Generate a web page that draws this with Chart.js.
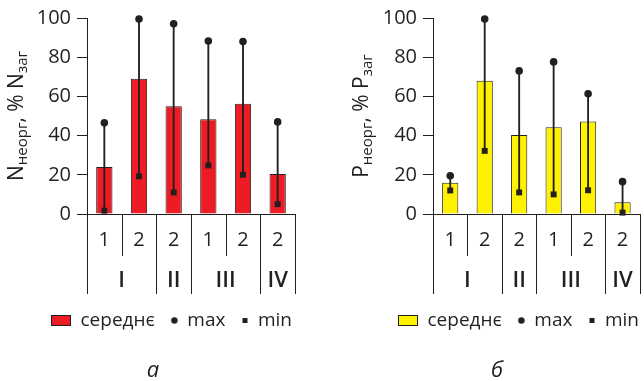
<!DOCTYPE html>
<html>
<head>
<meta charset="utf-8">
<script src="https://cdn.jsdelivr.net/npm/chart.js@4.4.0/dist/chart.umd.min.js"></script>
<style>
  body { margin: 0; background: #fff; }
  #wrap { position: relative; width: 644px; height: 381px; overflow: hidden; font-family: 'Open Sans', sans-serif; color: #231f20; }
  .panel { position: absolute; top: 0; width: 322px; height: 381px; }
  .sub { position: absolute; top: 353px; line-height: 30px; font-style: italic; font-size: 22px; transform: translateX(-50%); }
</style>
</head>
<body>
<div id="wrap">
  <div class="panel" style="left:0"><canvas id="chart_n"></canvas></div>
  <div class="panel" style="left:322px"><canvas id="chart_p"></canvas></div>
  <div class="sub" style="left:153px">а</div>
  <div class="sub" style="left:497px">б</div>
</div>
<script>
// categories and groups on the x axis
var categories = ["1", "2", "2", "1", "2", "2"];
var groups = ["I", "II", "III", "IV"];
var group_sizes = [2, 1, 2, 1];
var y_ticks = [0, 20, 40, 60, 80, 100];
var legend_names = ["середнє", "max", "min"];

// panel a: N
var n_mean = [24, 69, 55, 48.3, 56.2, 20.4];
var n_max = [46.5, 99.5, 97.1, 88.3, 88, 47];
var n_min = [1.7, 19.2, 11, 24.8, 20, 5];

// panel b: P
var p_mean = [16, 68, 40.3, 44.2, 47.2, 6];
var p_max = [19.5, 99.5, 73, 77.6, 61.3, 16.5];
var p_min = [12, 32.2, 11, 10, 12.1, 0.7];

var ink = "#231f20";
Chart.defaults.font.family = "'Open Sans', sans-serif";
Chart.defaults.color = ink;

function legend_marker(kind, fill) {
  var c = document.createElement("canvas");
  c.width = 20;
  c.height = 11;
  var g = c.getContext("2d");
  g.fillStyle = ink;
  if (kind == "box") {
    g.fillStyle = fill;
    g.fillRect(0.5, 0.5, 19, 10);
    g.strokeStyle = ink;
    g.lineWidth = 1;
    g.strokeRect(0.5, 0.5, 19, 10);
  } else if (kind == "dot") {
    g.beginPath();
    g.arc(16.5, 5.5, 3.2, 0, Math.PI * 2);
    g.fill();
  } else {
    g.fillRect(14, 3, 5, 5);
  }
  return c;
}

// separators, group names and the y title with subscripts
var group_axis = {
  id: "group_axis",
  afterDraw: function(chart, args, opts) {
    var ctx = chart.ctx;
    var xs = chart.scales.x;
    var y0 = chart.scales.y.getPixelForValue(0);
    var step = xs.getPixelForValue(1) - xs.getPixelForValue(0);
    var first = xs.getPixelForValue(0) - step / 2;

    var long_edges = [0];
    var acc = 0;
    group_sizes.forEach(function(s) { acc += s; long_edges.push(acc); });

    ctx.save();
    ctx.strokeStyle = ink;
    ctx.lineWidth = 1;
    for (var i = 0; i <= categories.length; i++) {
      var bx = Math.round(first + i * step) + 0.5;
      var len = long_edges.indexOf(i) >= 0 ? 80 : 42;
      ctx.beginPath();
      ctx.moveTo(bx, y0);
      ctx.lineTo(bx, y0 + len);
      ctx.stroke();
    }

    ctx.fillStyle = ink;
    ctx.font = "600 22px 'Open Sans'";
    ctx.textAlign = "center";
    ctx.textBaseline = "middle";
    var start = 0;
    groups.forEach(function(g, k) {
      var cx = first + (start + group_sizes[k] / 2) * step;
      ctx.fillText(g, cx, y0 + 67);
      start += group_sizes[k];
    });

    // y title
    var parts = opts.title;
    var big = "21px 'Open Sans'", small = "15px 'Open Sans'";
    var total = 0;
    parts.forEach(function(p) {
      ctx.font = p[1] ? small : big;
      total += ctx.measureText(p[0]).width;
    });
    var cy = (chart.chartArea.top + chart.chartArea.bottom) / 2;
    ctx.translate(opts.title_x, cy);
    ctx.rotate(-Math.PI / 2);
    ctx.textAlign = "left";
    ctx.textBaseline = "alphabetic";
    var px = -total / 2;
    parts.forEach(function(p) {
      ctx.font = p[1] ? small : big;
      ctx.fillText(p[0], px, p[1] ? 4 : 0);
      px += ctx.measureText(p[0]).width;
    });
    ctx.restore();
  }
};

function make_chart(id, mean, max, min, fill, title, title_x, y_width, pad_right) {
  var ctx = document.getElementById(id).getContext("2d");
  var whisker = min.map(function(v, i) { return [v, max[i]]; });
  return new Chart(ctx, {
    type: "bar",
    data: {
      labels: categories,
      datasets: [{
        label: legend_names[0],
        data: mean,
        backgroundColor: fill,
        borderColor: ink,
        borderWidth: 1,
        barPercentage: 0.47,
        categoryPercentage: 1.0,
        grouped: false,
        order: 3
      }, {
        label: "whisker",
        data: whisker,
        backgroundColor: ink,
        borderWidth: 0,
        barThickness: 1.2,
        grouped: false,
        clip: false,
        order: 2
      }, {
        type: "line",
        label: legend_names[1],
        data: max,
        showLine: false,
        pointStyle: "circle",
        pointRadius: 3.8,
        pointBackgroundColor: ink,
        pointBorderWidth: 0,
        clip: false,
        order: 1
      }, {
        type: "line",
        label: legend_names[2],
        data: min,
        showLine: false,
        pointStyle: "rect",
        pointRadius: 4.2,
        pointBackgroundColor: ink,
        pointBorderWidth: 0,
        clip: false,
        order: 0
      }]
    },
    options: {
      responsive: true,
      maintainAspectRatio: false,
      animation: false,
      layout: {
        padding: { top: 17, right: pad_right, bottom: 41, left: 0 }
      },
      scales: {
        x: {
          offset: true,
          grid: { display: false, drawTicks: false },
          border: { display: true, color: ink, width: 1 },
          ticks: { padding: 14, color: ink, font: { size: 20 } },
          afterFit: function(s) { s.height = 94; }
        },
        y: {
          min: 0,
          max: 100,
          grid: { drawOnChartArea: false, drawTicks: true, tickLength: 10, color: ink },
          border: { color: ink, width: 1 },
          ticks: { padding: 6, color: ink, font: { size: 20 } },
          afterBuildTicks: function(s) { s.ticks = y_ticks.map(function(v) { return { value: v }; }); },
          afterFit: function(s) { s.width = y_width; }
        }
      },
      plugins: {
        tooltip: { enabled: false },
        legend: {
          position: "bottom",
          align: "end",
          labels: {
            usePointStyle: true,
            pointStyleWidth: 20,
            boxHeight: 11,
            padding: 3,
            color: ink,
            font: { size: 19 },
            generateLabels: function() {
              return [
                { text: legend_names[0], pointStyle: legend_marker("box", fill), fontColor: ink, lineWidth: 0, datasetIndex: 0 },
                { text: legend_names[1], pointStyle: legend_marker("dot"), fontColor: ink, lineWidth: 0, datasetIndex: 2 },
                { text: legend_names[2], pointStyle: legend_marker("sq"), fontColor: ink, lineWidth: 0, datasetIndex: 3 }
              ];
            }
          }
        },
        group_axis: { title: title, title_x: title_x }
      }
    },
    plugins: [group_axis]
  });
}

make_chart("chart_n", n_mean, n_max, n_min, "#ed1c24",
  [["N", false], ["неорг", true], [", % ", false], ["N", false], ["заг", true]], 23, 87, 27);
make_chart("chart_p", p_mean, p_max, p_min, "#fff200",
  [["P", false], ["неорг", true], [", % ", false], ["P", false], ["заг", true]], 46, 111, 2);
</script>
</body>
</html>
